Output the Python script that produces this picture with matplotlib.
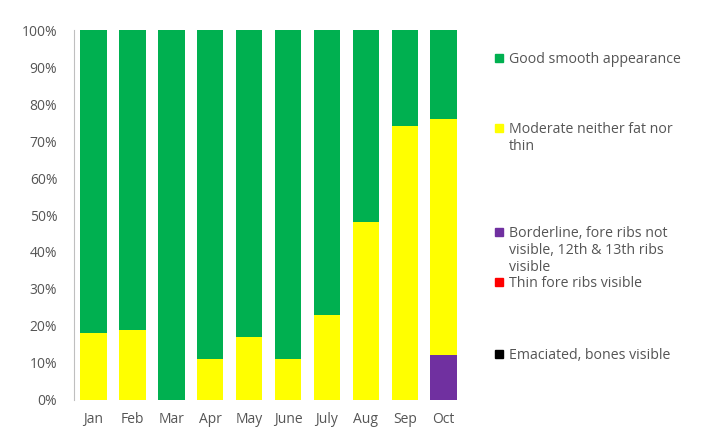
import matplotlib.pyplot as plt
from matplotlib.patches import Rectangle
from matplotlib.ticker import PercentFormatter
import numpy as np

months = ["Jan", "Feb", "Mar", "Apr", "May", "June", "July", "Aug", "Sep", "Oct"]

# body condition shares per month (%)
emaciated = [0, 0, 0, 0, 0, 0, 0, 0, 0, 0]
thin = [0, 0, 0, 0, 0, 0, 0, 0, 0, 0]
borderline = [0, 0, 0, 0, 0, 0, 0, 0, 0, 12]
moderate = [18, 19, 0, 11, 17, 11, 23, 48, 74, 64]
good = [82, 81, 100, 89, 83, 89, 77, 52, 26, 24]

labels = [
    "Good smooth appearance",
    "Moderate neither fat nor\nthin",
    "Borderline, fore ribs not\nvisible, 12th & 13th ribs\nvisible",
    "Thin fore ribs visible",
    "Emaciated, bones visible",
]
colors = ["#00B050", "#FFFF00", "#7030A0", "#FF0000", "#000000"]

plt.rcParams["font.family"] = ["Open Sans", "DejaVu Sans"]
text_color = "#555555"

fig = plt.figure(figsize=(7.05, 4.37), dpi=100)
ax = fig.add_axes([0.105, 0.085, 0.552, 0.846])

x = np.arange(len(months))
width = 0.68
stack = [emaciated, thin, borderline, moderate, good]
stack_colors = colors[::-1]
bottom = np.zeros(len(months))
for values, c in zip(stack, stack_colors):
    ax.bar(x, values, width, bottom=bottom, color=c, linewidth=0)
    bottom += np.array(values)

ax.set_xlim(-0.5, 9.5)
ax.set_ylim(0, 100)
ax.set_yticks(range(0, 101, 10))
ax.yaxis.set_major_formatter(PercentFormatter(decimals=0))
ax.set_xticks(x)
ax.set_xticklabels(months)
ax.tick_params(length=0, colors=text_color, labelsize=10)
ax.tick_params(axis="y", pad=12)
ax.tick_params(axis="x", pad=9)
for side in ["top", "right", "bottom"]:
    ax.spines[side].set_visible(False)
ax.spines["left"].set_color("#BFBFBF")

# legend entries placed down the right side
legend_y = [58, 128, 232, 282, 354]
for lab, c, yp in zip(labels, colors, legend_y):
    fy = 1 - yp / 437
    fig.patches.append(Rectangle((495 / 705, fy - 4 / 437), 8 / 705, 8 / 437,
                                 transform=fig.transFigure, color=c, figure=fig))
    fig.text(509 / 705, fy + 6 / 437, lab, ha="left", va="top", fontsize=10.2,
             color=text_color, linespacing=1.2)

fig.savefig("out.png", dpi=100)
